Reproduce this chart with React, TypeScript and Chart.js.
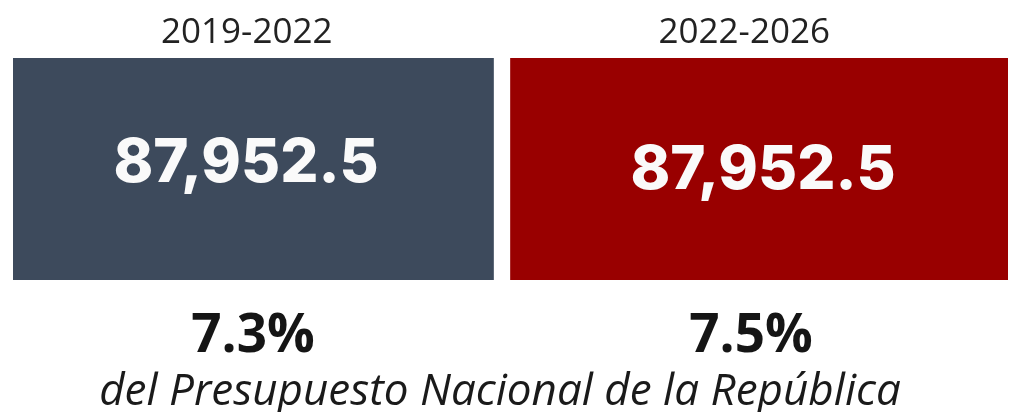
import React, { useEffect, useRef } from "react";
import { Chart, registerables } from "chart.js";

Chart.register(...registerables);

const categories = ["2019-2022", "2022-2026"];
const values = [87952.5, 87952.5];
const shares = ["7.3%", "7.5%"];
const barColors = ["#3d4a5c", "#990000"];
const footnote = "del Presupuesto Nacional de la República";

const fmt = (v: number) =>
  v.toLocaleString("en-US", { minimumFractionDigits: 1, maximumFractionDigits: 1 });

const labelPlugin = {
  id: "boxLabels",
  afterDatasetsDraw(chart: any) {
    const ctx = chart.ctx as CanvasRenderingContext2D;
    const meta = chart.getDatasetMeta(0);
    const titleOff = [-15, -15];
    const numOff = [-15.75, 3.75];
    const numBase = [182, 189];
    const pctOff = [-8.75, -8.25];
    ctx.save();
    ctx.textAlign = "center";
    ctx.textBaseline = "alphabetic";
    meta.data.forEach((el: any, i: number) => {
      const cx = el.x;
      ctx.fillStyle = "#222222";
      ctx.font = "400 35px 'Open Sans'";
      ctx.fillText(categories[i], cx + titleOff[i], 43);

      ctx.fillStyle = "#fafafa";
      ctx.font = "800 60px Inter";
      ctx.fillText(fmt(values[i]), cx + numOff[i], numBase[i]);

      ctx.fillStyle = "#151515";
      ctx.font = "700 53px 'Open Sans'";
      ctx.fillText(shares[i], cx + pctOff[i], 352);
    });
    const area = chart.chartArea;
    ctx.fillStyle = "#1a1a1a";
    ctx.font = "italic 400 44px 'Open Sans'";
    ctx.fillText(footnote, (area.left + area.right) / 2 - 10.5, 405);
    ctx.restore();
  },
};

export default function App() {
  const ref = useRef<HTMLCanvasElement>(null);
  useEffect(() => {
    if (!ref.current) return;
    const chart = new Chart(ref.current, {
      type: "bar",
      data: {
        labels: categories,
        datasets: [
          {
            data: values,
            backgroundColor: barColors,
            borderColor: "#ffffff",
            borderWidth: [
              { left: 0, right: 17, top: 0, bottom: 0 },
              { left: 0, right: 0, top: 0, bottom: 0 },
            ] as any,
            borderSkipped: false,
            barPercentage: 1,
            categoryPercentage: 1,
          },
        ],
      },
      options: {
        responsive: false,
        animation: false,
        layout: { padding: { left: 13, right: 5, top: 58, bottom: 132 } },
        plugins: { legend: { display: false }, tooltip: { enabled: false }, title: { display: false } },
        scales: {
          x: { display: false },
          y: { display: false, min: 0, max: Math.max(...values) },
        },
      },
      plugins: [labelPlugin],
    });
    return () => chart.destroy();
  }, []);
  return (
    <div style={{ position: "absolute", left: 0, top: 0, width: 1013, height: 412, background: "#ffffff" }}>
      <canvas ref={ref} width={1013} height={412} style={{ display: "block" }} />
    </div>
  );
}
